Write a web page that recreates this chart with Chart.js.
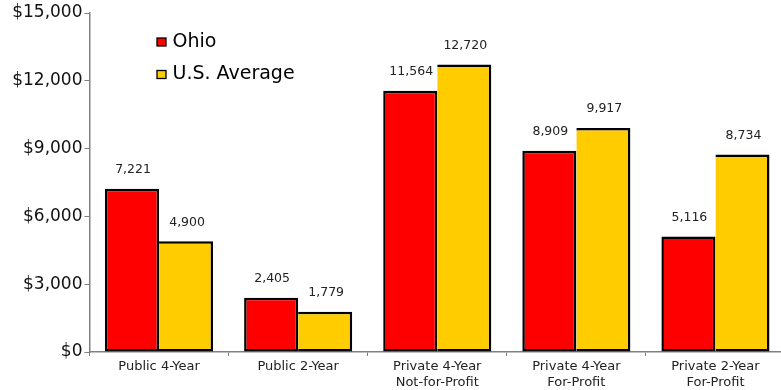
<!DOCTYPE html>
<html>
<head>
<meta charset="utf-8">
<script src="https://cdn.jsdelivr.net/npm/chart.js@4/dist/chart.umd.min.js"></script>
<style>
  html, body { margin: 0; padding: 0; background: #fff; overflow: hidden; }
  #wrap { width: 781px; height: 390px; overflow: hidden; position: relative; }
  canvas { display: block; }
</style>
</head>
<body>
<div id="wrap"><canvas id="c" width="785" height="390" style="width:785px;height:390px"></canvas></div>
<script>
const categories = ['Public 4-Year', 'Public 2-Year', ['Private 4-Year', 'Not-for-Profit'], ['Private 4-Year', 'For-Profit'], ['Private 2-Year', 'For-Profit']];
const seriesNames = ['Ohio', 'U.S. Average'];
const ohioValues = [7221, 2405, 11564, 8909, 5116];
const usValues = [4900, 1779, 12720, 9917, 8734];
const yTicks = [0, 3000, 6000, 9000, 12000, 15000];
const seriesColors = ['#FF0000', '#FFCC00'];

const valueLabels = {
  id: 'valueLabels',
  afterDatasetsDraw(chart) {
    const ctx = chart.ctx;
    ctx.save();
    ctx.font = '12.5px "DejaVu Sans", sans-serif';
    ctx.fillStyle = '#222';
    ctx.textAlign = 'center';
    ctx.textBaseline = 'middle';
    chart.data.datasets.forEach((ds, i) => {
      chart.getDatasetMeta(i).data.forEach((bar, j) => {
        ctx.fillText(ds.data[j].toLocaleString('en-US'), bar.x + 1, bar.y - 19);
      });
    });
    ctx.restore();
  }
};

const innerLegend = {
  id: 'innerLegend',
  afterDraw(chart) {
    const ctx = chart.ctx;
    ctx.save();
    ctx.font = '19px "DejaVu Sans", sans-serif';
    ctx.textBaseline = 'middle';
    ctx.textAlign = 'left';
    seriesNames.forEach((name, i) => {
      const y = 42 + i * 32.5;
      ctx.fillStyle = seriesColors[i];
      ctx.fillRect(157, y - 4, 9, 8);
      ctx.strokeStyle = '#000';
      ctx.lineWidth = 1.3;
      ctx.strokeRect(157, y - 4, 9, 8);
      ctx.fillStyle = '#000';
      ctx.fillText(name, 172.5, y);
    });
    ctx.restore();
  }
};

new Chart(document.getElementById('c'), {
  type: 'bar',
  data: {
    labels: categories,
    datasets: [
      {
        label: seriesNames[0],
        data: ohioValues,
        backgroundColor: seriesColors[0],
        borderColor: '#000',
        borderWidth: {top: 2.5, left: 2.5, right: 2.5, bottom: 2.5},
        borderSkipped: false,
        barPercentage: 1,
        categoryPercentage: 0.777
      },
      {
        label: seriesNames[1],
        data: usValues,
        backgroundColor: seriesColors[1],
        borderColor: '#000',
        borderWidth: {top: 2.5, left: 0, right: 2.5, bottom: 2.5},
        borderSkipped: false,
        barPercentage: 1,
        categoryPercentage: 0.777
      }
    ]
  },
  options: {
    responsive: false,
    devicePixelRatio: 1,
    animation: false,
    layout: { padding: { top: 13, left: 0, right: 0, bottom: 0 } },
    plugins: { legend: { display: false }, tooltip: { enabled: false } },
    scales: {
      x: {
        offset: true,
        grid: { display: true, drawOnChartArea: false, drawTicks: true, tickLength: 4, color: '#808080', offset: true },
        border: { display: true, color: '#808080', width: 1.5 },
        ticks: {
          color: '#222',
          padding: 3,
          maxRotation: 0,
          autoSkip: false,
          font: { family: '"DejaVu Sans", sans-serif', size: 13, lineHeight: 1.22 }
        },
        afterFit(scale) { scale.height = 38; }
      },
      y: {
        min: 0,
        max: 15000,
        afterBuildTicks(scale) { scale.ticks = yTicks.map(v => ({ value: v })); },
        grid: { display: true, drawOnChartArea: false, drawTicks: true, tickLength: 5, color: '#808080' },
        border: { display: true, color: '#808080', width: 1.5 },
        ticks: {
          color: '#111',
          padding: 2,
          font: { family: '"DejaVu Sans", sans-serif', size: 17 },
          callback: v => '$' + Number(v).toLocaleString('en-US')
        },
        afterFit(scale) { scale.width = 89.5; }
      }
    }
  },
  plugins: [valueLabels, innerLegend]
});
</script>
</body>
</html>
